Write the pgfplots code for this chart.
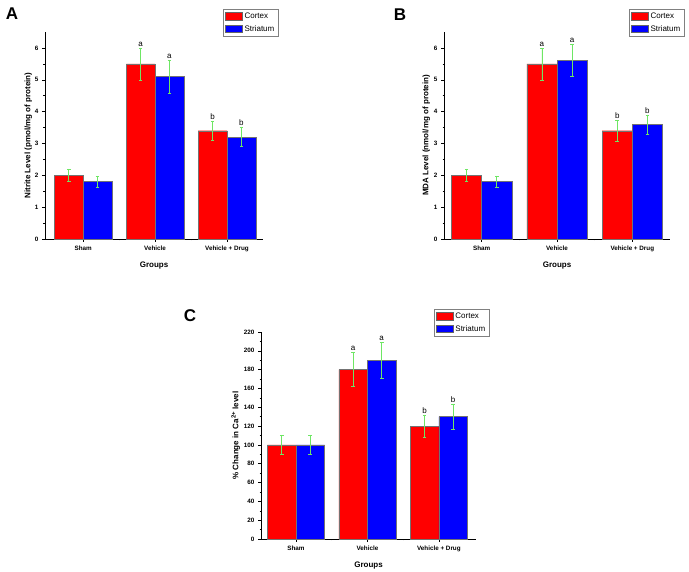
\documentclass[border=0pt]{standalone}
\usepackage{fontspec}
\setmainfont{Liberation Sans}
\usepackage{pgfplots}
\pgfplotsset{compat=1.18}
\definecolor{barred}{RGB}{255,0,0}
\definecolor{barblue}{RGB}{0,0,255}
\definecolor{errgreen}{RGB}{110,230,100}

\pgfplotsset{
  panel/.style={
    scale only axis, height=207pt,
    axis lines*=left, tick align=outside,
    xtick={0,1,2}, minor xtick={0.5,1.5},
    xticklabels={Sham,Vehicle,Vehicle + Drug},
    ymin=0,
    major tick length=3pt, minor tick length=1.5pt,
    tick style={black, line width=0.5pt},
    axis line style={black, line width=0.6pt},
    ticklabel style={font=\fontsize{6.3}{7}\selectfont\bfseries},
    /pgf/number format/assume math mode=true,
    xlabel={Groups},
    label style={font=\fontsize{8}{9}\selectfont\bfseries},
    xlabel shift=4pt, ylabel shift=-3pt,
    legend cell align=left,
    legend style={draw=black!50, font=\fontsize{8}{9}\selectfont,
      anchor=north east, inner sep=1.5pt, row sep=1.5pt},
    legend image code/.code={\draw[#1, draw=black!60] (0pt,-3.5pt) rectangle (17pt,4pt);},
    clip=false,
  },
  % bars sit at their own x (group index -/+ 0.2), so the error bars line up
  barplot/.style={ybar, bar width=0.4, bar shift=0pt, draw=black!55, line width=0.4pt,
    error bars/.cd, y dir=both, y explicit,
    error bar style={errgreen, line width=0.5pt},
    error mark options={rotate=90, errgreen, mark size=1.8pt, line width=0.5pt}},
  cortex/.style={fill=barred, barplot},
  striatum/.style={fill=barblue, barplot},
  letters/.style={draw=none, mark=none, nodes near coords, point meta=explicit symbolic,
    nodes near coords style={anchor=south, font=\fontsize{8}{9}\selectfont, inner sep=1.5pt},
    forget plot},
}

\begin{document}
\begin{tikzpicture}
\useasboundingbox (0,0) rectangle (689pt,572pt);

% panel A
\node[font=\fontsize{17}{18}\selectfont\bfseries] at (12pt,558pt) {A};
\begin{axis}[panel, at={(45pt,333pt)}, anchor=south west, width=218pt,
  xmin=-0.53, xmax=2.5, ymax=6.5, ytick={0,1,2,3,4,5,6}, minor y tick num=1,
  ylabel={Nitrite Level (pmol/mg of protein)}, ylabel shift=-4pt,
  legend style={at={(1.069,1.111)}}]
\addplot[cortex] coordinates {(-0.2,2.0) +- (0,0.2) (0.8,5.5) +- (0,0.5) (1.8,3.4) +- (0,0.3)};
\addplot[striatum] coordinates {(0.2,1.8) +- (0,0.17) (1.2,5.1) +- (0,0.52) (2.2,3.2) +- (0,0.3)};
\legend{Cortex,Striatum}
\addplot[letters] coordinates {(0.8,6.0) [a] (1.2,5.62) [a] (1.8,3.7) [b] (2.2,3.5) [b]};
\end{axis}

% panel B
\node[font=\fontsize{17}{18}\selectfont\bfseries] at (400pt,557pt) {B};
\begin{axis}[panel, at={(444pt,333pt)}, anchor=south west, width=226pt,
  xmin=-0.5, xmax=2.5, ymax=6.5, ytick={0,1,2,3,4,5,6}, minor y tick num=1,
  ylabel={MDA Level (nmol/mg of protein)},
  legend style={at={(1.062,1.111)}}]
\addplot[cortex] coordinates {(-0.2,2.0) +- (0,0.2) (0.8,5.5) +- (0,0.5) (1.8,3.4) +- (0,0.32)};
\addplot[striatum] coordinates {(0.2,1.8) +- (0,0.18) (1.2,5.6) +- (0,0.5) (2.2,3.6) +- (0,0.3)};
\legend{Cortex,Striatum}
\addplot[letters] coordinates {(0.8,6.0) [a] (1.2,6.1) [a] (1.8,3.72) [b] (2.2,3.9) [b]};
\end{axis}

% panel C
\node[font=\fontsize{17}{18}\selectfont\bfseries] at (190pt,256pt) {C};
\begin{axis}[panel, at={(261pt,33pt)}, anchor=south west, width=215pt,
  xmin=-0.49, xmax=2.52, ymax=220, ytick={0,20,...,220}, minor y tick num=1,
  ylabel={\% Change in Ca\textsuperscript{2+} level},
  legend style={at={(1.06,1.111)}}]
\addplot[cortex] coordinates {(-0.2,100) +- (0,10) (0.8,180) +- (0,18) (1.8,120) +- (0,12)};
\addplot[striatum] coordinates {(0.2,100) +- (0,10) (1.2,190) +- (0,19) (2.2,130) +- (0,13)};
\legend{Cortex,Striatum}
\addplot[letters] coordinates {(0.8,198) [a] (1.2,209) [a] (1.8,132) [b] (2.2,143) [b]};
\end{axis}
\end{tikzpicture}
\end{document}
